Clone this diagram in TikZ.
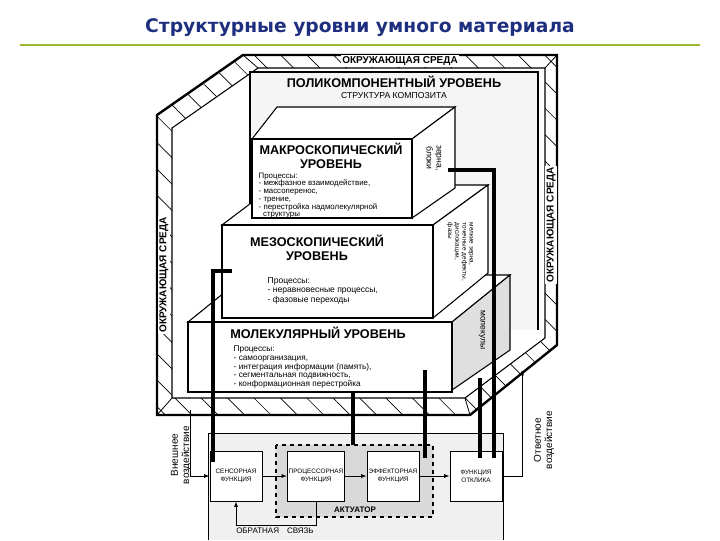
\documentclass[tikz,border=0pt]{standalone}
\usepackage{fontspec}
\setmainfont{Liberation Sans}
\newfontfamily\titlefont{DejaVu Sans}
\usetikzlibrary{patterns.meta,arrows.meta}
\definecolor{ttl}{HTML}{1F2F80}
\definecolor{grn}{HTML}{9BBB2E}
\tikzset{
 thickln/.style={line width=2.4pt},
 frameln/.style={line width=1.8pt},
 face/.style={draw,line width=0.8pt,fill=white},
 sface/.style={draw,line width=0.8pt,fill=gray!25},
 fbox/.style={draw,line width=0.7pt,fill=white,minimum width=39pt,minimum height=37.5pt,inner sep=1pt,align=center,font=\fontsize{4.8}{6}\selectfont},
 arr/.style={-{Latex[length=4pt,width=3pt]},line width=0.6pt},
 txt/.style={font=\fontsize{6.4}{7}\selectfont,align=left},
 hd/.style={font=\bfseries\fontsize{9.5}{10.5}\selectfont,align=center},
 env/.style={font=\bfseries\fontsize{7.5}{8}\selectfont}
}
\begin{document}
\begin{tikzpicture}[x=0.75pt,y=-0.75pt]
\useasboundingbox (0,0) rectangle (720,540);
\node[font=\titlefont\bfseries\fontsize{14}{16}\selectfont,text=ttl] (title) at (360,28) {Структурные уровни умного материала};
\draw[grn,line width=1.2pt] (20,45) -- (700,45);
% environment frame
\path[pattern={Lines[angle=-45,distance=14pt,line width=0.5pt]},even odd rule]
 (157,115)--(243,55)--(557,55)--(557,345)--(470,415)--(157,415)--cycle
 (172,128)--(258,68)--(545,68)--(545,338)--(465,398)--(172,398)--cycle;
\draw[frameln] (157,115)--(243,55)--(557,55)--(557,345)--(470,415)--(157,415)--cycle;
\draw[line width=0.8pt] (172,128)--(258,68)--(545,68)--(545,338)--(465,398)--(172,398)--cycle;
\draw[line width=0.6pt] (157,415)--(172,398) (470,415)--(465,398) (557,55)--(545,68) (243,55)--(258,68);
\node[env,fill=white,inner sep=1pt] (envtop) at (400,61) {ОКРУЖАЮЩАЯ СРЕДА};
\node[env,rotate=90,fill=white,inner sep=1pt] (envl) at (164,275) {ОКРУЖАЮЩАЯ СРЕДА};
\node[env,rotate=90,fill=white,inner sep=1pt] (envr) at (551,225) {ОКРУЖАЮЩАЯ СРЕДА};
% polycomponent back wall
\fill[gray!8] (250,72) rectangle (538,330);
\draw[line width=0.8pt] (250,330)--(250,72)--(538,72)--(538,330);
\node[hd] (poly) at (394,82) {ПОЛИКОМПОНЕНТНЫЙ УРОВЕНЬ};
\node[font=\fontsize{6.5}{7}\selectfont] (comp) at (394,96) {СТРУКТУРА КОМПОЗИТА};
% molecular
\draw[face] (188,322)--(246,275)--(510,275)--(452,322)--cycle;
\draw[sface] (452,322)--(510,275)--(510,350)--(452,390)--cycle;
\draw[face] (188,322) rectangle (452,392);
\node[hd] (molh) at (318,333) {МОЛЕКУЛЯРНЫЙ УРОВЕНЬ};
\node[txt,anchor=north west,font=\fontsize{6.2}{6.6}\selectfont] (molt) at (229,341) {Процессы:\\- самоорганизация,\\- интеграция информации (память),\\- сегментальная подвижность,\\- конформационная перестройка};
\node[txt,rotate=-90] (molside) at (482,330) {молекулы};
% meso
\draw[face] (222,225)--(275,185)--(488,185)--(433,225)--cycle;
\draw[face] (433,225)--(488,185)--(488,273)--(433,318)--cycle;
\draw[face] (222,225) rectangle (433,318);
\node[hd] (mesh) at (317,248) {МЕЗОСКОПИЧЕСКИЙ\\УРОВЕНЬ};
\node[txt,anchor=north west] (mest) at (263,273) {Процессы:\\- неравновесные процессы,\\- фазовые переходы};
\node[rotate=-90,font=\fontsize{4.8}{5.4}\selectfont,align=left] (meside) at (460,252) {мелкие зерна,\\точечные дефекты,\\дислокации,\\фазы};
% macro
\draw[face] (252,139)--(277,107)--(455,107)--(412,139)--cycle;
\draw[face] (412,139)--(455,107)--(455,188)--(412,218)--cycle;
\draw[face] (252,139) rectangle (412,218);
\node[hd] (mach) at (331,156) {МАКРОСКОПИЧЕСКИЙ\\УРОВЕНЬ};
\node[txt,anchor=north west,font=\fontsize{5.9}{5.8}\selectfont] (mact) at (254,168) {Процессы:\\- межфазное взаимодействие,\\- массоперенос,\\- трение,\\- перестройка надмолекулярной\\\ \ структуры};
\node[rotate=-90,font=\fontsize{6.5}{7.5}\selectfont,align=center] (macside) at (434,158) {зерна,\\блоки};
% function block
\fill[gray!12] (208,433) rectangle (503,540);
\draw[line width=0.6pt] (208,540)--(208,433)--(503,433)--(503,540);
\draw[dashed,line width=1pt,fill=gray!30] (276,445) rectangle (433,517);
\node[font=\bfseries\fontsize{6}{7}\selectfont] (act) at (355,510) {АКТУАТОР};
\node[fbox] (sen) at (236,476) {СЕНСОРНАЯ\\ФУНКЦИЯ};
\node[fbox] (pro) at (316,476) {ПРОЦЕССОРНАЯ\\ФУНКЦИЯ};
\node[fbox] (eff) at (393,476) {ЭФФЕКТОРНАЯ\\ФУНКЦИЯ};
\node[fbox] (res) at (476,476) {ФУНКЦИЯ\\ОТКЛИКА};
\draw[arr] (sen) -- (pro);
\draw[arr] (pro) -- (eff);
\draw[arr] (eff) -- (res);
\draw[arr] (pro.south) -- ++(0,24) -| (sen.south);
\node[font=\fontsize{6}{7}\selectfont] (fb) at (275,531) {ОБРАТНАЯ\quad СВЯЗЬ};
\coordinate (ext) at (190,410);
\draw[arr] (ext) |- (sen.west);
\node[rotate=90,font=\fontsize{7.5}{8.5}\selectfont,align=center] (extl) at (181,455) {Внешнее\\воздействие};
\coordinate (resp) at (522,370);
\draw[arr] (res.east) -| (resp);
\node[rotate=90,font=\fontsize{7.5}{8.5}\selectfont,align=center] (respl) at (544,440) {Ответное\\воздействие};
% level connections
\draw[thickln] (232,271) -| (213,462);
\draw[thickln] (353,392) -- (353,445);
\draw[thickln] (425,370) -- (425,458);
\draw[thickln] (480,378) -- (480,458);
\draw[thickln] (448,170) -| (494,458);
\end{tikzpicture}
\end{document}
